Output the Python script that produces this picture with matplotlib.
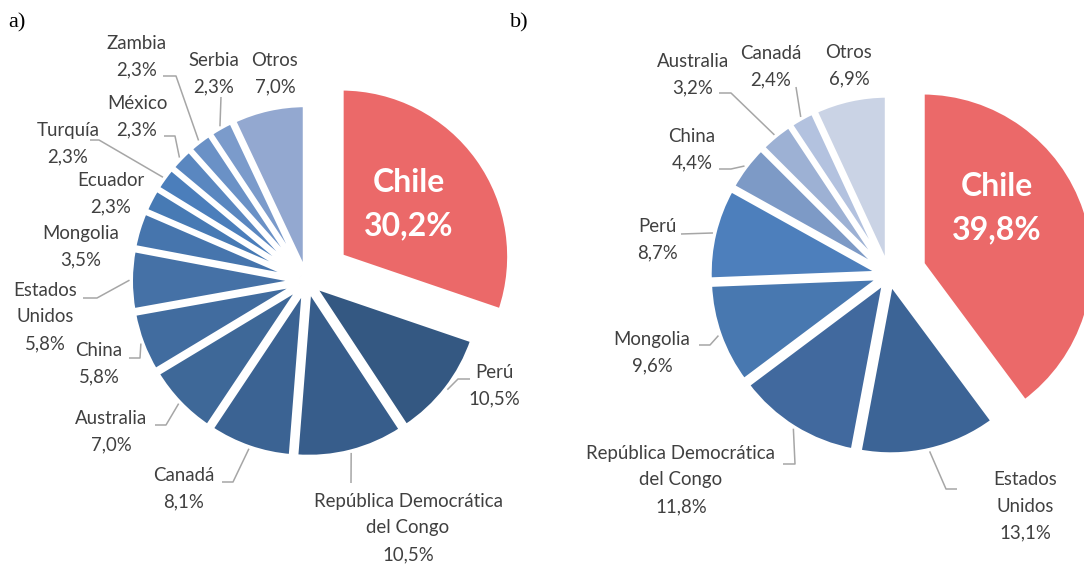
import numpy as np
import matplotlib.pyplot as plt

W, H = 1084, 567

# --- data -------------------------------------------------------------
a_countries = ["Chile", "Perú", "República Democrática del Congo", "Canadá",
               "Australia", "China", "Estados Unidos", "Mongolia", "Ecuador",
               "Turquía", "México", "Zambia", "Serbia", "Otros"]
a_shares = [30.2, 10.5, 10.5, 8.1, 7.0, 5.8, 5.8, 3.5, 2.3, 2.3, 2.3, 2.3, 2.3, 7.0]

b_countries = ["Chile", "Estados Unidos", "República Democrática del Congo",
               "Mongolia", "Perú", "China", "Australia", "Canadá", "Otros"]
b_shares = [39.8, 13.1, 11.8, 9.6, 8.7, 4.4, 3.2, 2.4, 6.9]

# --- styles -----------------------------------------------------------
a_colors = ["#EB6969", "#345882", "#375D8B", "#3B6393", "#3E6898", "#416C9F",
            "#4571A6", "#4675AD", "#477AB4", "#4B7EBB", "#5A87C0", "#6A91C6",
            "#7B9BCB", "#93A8D0"]
b_colors = ["#EB6969", "#3C6496", "#41699E", "#4878B0", "#4D7FBC", "#7D9AC6",
            "#9DB1D4", "#B3C2DF", "#CAD3E5"]

TEXT = "#404040"
LEADER = "#A6A6A6"
FONT = "Lato"

wrap = {"Estados Unidos": "Estados\nUnidos",
        "República Democrática del Congo": "República Democrática\ndel Congo"}

# --- layout (pixels, origin top-left) ----------------------------------
a_geo = dict(center=(307, 281), radius=168.5, explode=8, chile_explode=42)
b_geo = dict(center=(889, 275), radius=172, explode=8, chile_explode=35)

a_label_pos = {
    "Chile": (409, 204), "Perú": (494, 386),
    "República Democrática del Congo": (408, 528), "Canadá": (184, 489),
    "Australia": (111, 432), "China": (99, 364), "Estados Unidos": (45, 317),
    "Mongolia": (81, 246.5), "Ecuador": (111, 193.5), "Turquía": (68, 143.5),
    "México": (137, 117), "Zambia": (137, 57), "Serbia": (214, 73.5),
    "Otros": (275, 73.5),
}
a_leaders = {
    "Perú": [(470, 379), (458, 379)],
    "República Democrática del Congo": [(351, 483)],
    "Canadá": [(222, 482), (233, 482)],
    "Australia": [(155, 425), (166, 425)],
    "China": [(129, 358), (140, 358)],
    "Estados Unidos": [(83, 298), (97, 298)],
    "Turquía": [(90, 140), (99, 140)],
    "México": [(164, 136), (175, 136)],
    "Zambia": [(163, 76), (176, 76)],
    "Serbia": [(221, 97)],
}

b_label_pos = {
    "Chile": (997, 208), "Estados Unidos": (1025, 506),
    "República Democrática del Congo": (681, 480), "Mongolia": (652, 352.5),
    "Perú": (657, 240), "China": (692, 150), "Australia": (693, 74.5),
    "Canadá": (771, 67), "Otros": (849, 65.5),
}
b_leaders = {
    "Estados Unidos": [(957, 489), (946, 489)],
    "República Democrática del Congo": [(783, 464), (795, 464)],
    "Mongolia": [(699, 345), (710, 345)],
    "Perú": [(681, 234)],
    "China": [(719, 169), (731, 169)],
    "Australia": [(719, 93), (731, 93)],
    "Canadá": [(796, 87)],
}


def fy(y):
    return H - y


def lines_text(ax, x, y, text, pitch, **kw):
    rows = text.split("\n")
    top = y - (len(rows) - 1) * pitch / 2
    for i, row in enumerate(rows):
        ax.text(x, fy(top + i * pitch), row, ha="center", va="center", **kw)


def draw_pie(ax, countries, shares, colors, geo, label_pos, leaders):
    cx, cy = geo["center"]
    explode = [geo["chile_explode"] if c == "Chile" else geo["explode"] for c in countries]
    wedges, _ = ax.pie(shares, colors=colors, explode=explode, center=(cx, fy(cy)),
                       radius=geo["radius"], startangle=90, counterclock=False,
                       wedgeprops=dict(edgecolor="white", linewidth=3.6))
    for w, name, v in zip(wedges, countries, shares):
        pct = f"{v:.1f}".replace(".", ",") + "%"
        lx, ly = label_pos[name]
        if name == "Chile":
            lines_text(ax, lx, ly, f"{name}\n{pct}", 44, color="white",
                       fontsize=23, fontweight="bold", family=FONT)
            continue
        lines_text(ax, lx, ly, wrap.get(name, name) + "\n" + pct, 26.5,
                   color=TEXT, fontsize=13.4, family=FONT)
        if name in leaders:
            mid = np.deg2rad((w.theta1 + w.theta2) / 2)
            ex = w.center[0] + (w.r + 1) * np.cos(mid)
            ey = w.center[1] + (w.r + 1) * np.sin(mid)
            pts = [(x, fy(y)) for x, y in leaders[name]] + [(ex, ey)]
            xs, ys = zip(*pts)
            ax.plot(xs, ys, color=LEADER, lw=1.1, solid_capstyle="butt")


fig = plt.figure(figsize=(W / 100, H / 100), dpi=100)
ax = fig.add_axes([0, 0, 1, 1])

draw_pie(ax, a_countries, a_shares, a_colors, a_geo, a_label_pos, a_leaders)
draw_pie(ax, b_countries, b_shares, b_colors, b_geo, b_label_pos, b_leaders)

ax.text(8, fy(23), "a)", family="Liberation Serif", fontsize=16, ha="left", va="center")
ax.text(510, fy(23), "b)", family="Liberation Serif", fontsize=16, ha="left", va="center")

ax.set_xlim(0, W)
ax.set_ylim(0, H)
ax.set_aspect("equal")
ax.axis("off")

fig.savefig("out.png", dpi=100)
